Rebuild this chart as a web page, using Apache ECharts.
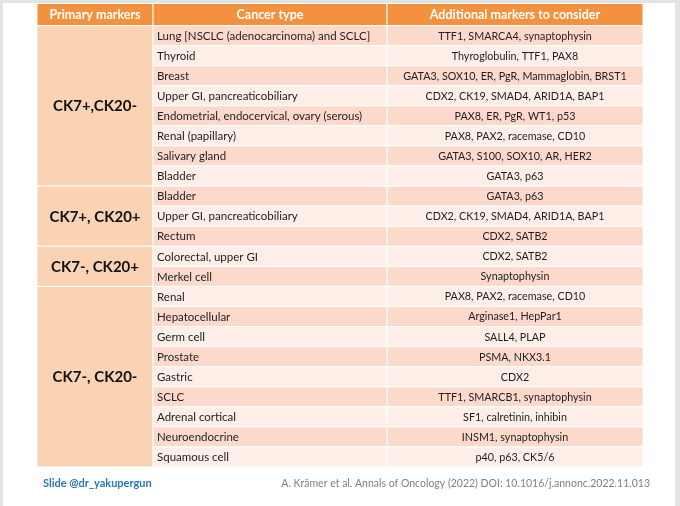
<!DOCTYPE html>
<html>
<head>
<meta charset="utf-8">
<script src="https://cdn.jsdelivr.net/npm/echarts@6/dist/echarts.min.js"></script>
<style>
  html, body { margin: 0; padding: 0; background: #e3e3e3; }
  #chart { position: absolute; left: 3px; top: 3px; width: 672px; height: 503px; background: #fff; }
</style>
</head>
<body>
<div id="chart"></div>
<script>
// table content
var headers = ['Primary markers', 'Cancer type', 'Additional markers to consider'];
var groups = ['CK7+,CK20-', 'CK7+, CK20+', 'CK7-, CK20+', 'CK7-, CK20-'];
var groupSizes = [8, 3, 2, 9];
var cancerTypes = [
  'Lung [NSCLC (adenocarcinoma) and SCLC]', 'Thyroid', 'Breast', 'Upper GI, pancreaticobiliary',
  'Endometrial, endocervical, ovary (serous)', 'Renal (papillary)', 'Salivary gland', 'Bladder',
  'Bladder', 'Upper GI, pancreaticobiliary', 'Rectum',
  'Colorectal, upper GI', 'Merkel cell',
  'Renal', 'Hepatocellular', 'Germ cell', 'Prostate', 'Gastric', 'SCLC', 'Adrenal cortical',
  'Neuroendocrine', 'Squamous cell'
];
var markers = [
  'TTF1, SMARCA4, synaptophysin', 'Thyroglobulin, TTF1, PAX8', 'GATA3, SOX10, ER, PgR, Mammaglobin, BRST1',
  'CDX2, CK19, SMAD4, ARID1A, BAP1', 'PAX8, ER, PgR, WT1, p53', 'PAX8, PAX2, racemase, CD10',
  'GATA3, S100, SOX10, AR, HER2', 'GATA3, p63',
  'GATA3, p63', 'CDX2, CK19, SMAD4, ARID1A, BAP1', 'CDX2, SATB2',
  'CDX2, SATB2', 'Synaptophysin',
  'PAX8, PAX2, racemase, CD10', 'Arginase1, HepPar1', 'SALL4, PLAP', 'PSMA, NKX3.1', 'CDX2',
  'TTF1, SMARCB1, synaptophysin', 'SF1, calretinin, inhibin', 'INSM1, synaptophysin', 'p40, p63, CK5/6'
];
var credit = 'Slide @dr_yakupergun';
var source = 'A. Kr\u00e4mer et al. Annals of Oncology (2022) DOI: 10.1016/j.annonc.2022.11.013';

// layout
var colEdges = [0, 116, 350, 606];
var headerTop = -1.1;
var FONT = 'Lato, "Noto Sans", sans-serif';

var cells = [];
headers.forEach(function (h, i) {
  cells.push({ value: [i, headerTop, 0], text: h, kind: 'head' });
});
var start = 0;
groups.forEach(function (g, i) {
  cells.push({ value: [0, start, start + groupSizes[i]], text: g, kind: 'group' });
  start += groupSizes[i];
});
cancerTypes.forEach(function (c, i) {
  cells.push({ value: [1, i, i + 1], text: c, kind: i % 2 ? 'even' : 'odd' });
  cells.push({ value: [2, i, i + 1], text: markers[i], kind: i % 2 ? 'even' : 'odd' });
});

var fills = { head: '#f3913f', group: '#fad3b5', odd: '#fbdacb', even: '#fdeee8' };

var chart = echarts.init(document.getElementById('chart'));
chart.setOption({
  animation: false,
  grid: { left: 34, right: 32, top: 0.5, bottom: 39 },
  xAxis: { type: 'value', min: 0, max: 606, show: false },
  yAxis: { type: 'value', min: headerTop, max: cancerTypes.length, inverse: true, show: false },
  series: [{
    type: 'custom',
    coordinateSystem: 'cartesian2d',
    data: cells,
    renderItem: function (params, api) {
      var cell = cells[params.dataIndex];
      var col = api.value(0);
      var p0 = api.coord([colEdges[col], api.value(1)]);
      var p1 = api.coord([colEdges[col + 1], api.value(2)]);
      var w = p1[0] - p0[0], h = p1[1] - p0[1];
      var tx, align = 'center', font, color = '#1e1e1e';
      if (cell.kind === 'head') {
        tx = p0[0] + w / 2; font = 'bold 12.5px ' + FONT; color = '#fff';
      } else if (cell.kind === 'group') {
        tx = p0[0] + w / 2; font = 'bold 15px ' + FONT; color = '#111';
      } else if (col === 1) {
        tx = p0[0] + 4; align = 'left'; font = '11.5px ' + FONT;
      } else {
        tx = p0[0] + w / 2; font = '10.75px ' + FONT;
      }
      return {
        type: 'group',
        children: [{
          type: 'rect',
          shape: { x: p0[0], y: p0[1], width: w, height: h },
          style: { fill: fills[cell.kind], stroke: '#fff', lineWidth: 1 }
        }, {
          type: 'text',
          style: {
            x: tx, y: p0[1] + h / 2 + 0.5, text: cell.text, font: font, fill: color,
            textAlign: align, textVerticalAlign: 'middle', align: align, verticalAlign: 'middle'
          }
        }]
      };
    }
  }],
  graphic: [{
    type: 'text', left: 40, top: 475,
    style: { text: credit, font: 'bold 11px ' + FONT, fill: '#2e75b6' }
  }, {
    type: 'text', right: 25, top: 475,
    style: { text: source, font: '10.5px ' + FONT, fill: '#808080' }
  }]
});
</script>
</body>
</html>
